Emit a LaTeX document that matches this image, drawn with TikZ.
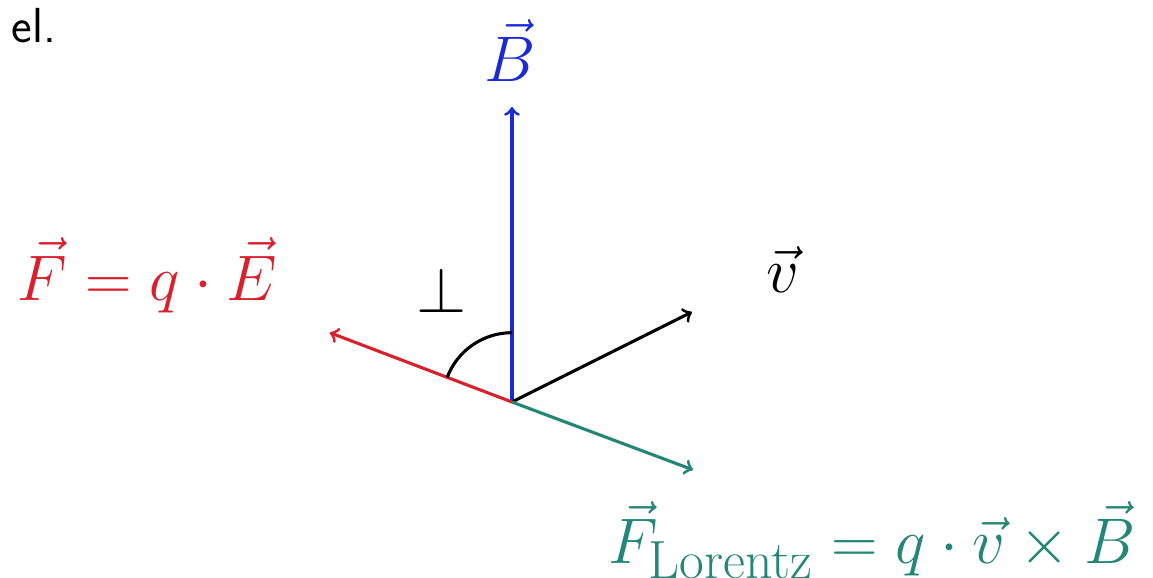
\documentclass[tikz,border=0pt]{standalone}
\usetikzlibrary{calc}
\definecolor{fieldB}{HTML}{1A2BD6}
\definecolor{forceE}{HTML}{D9212E}
\definecolor{forceL}{HTML}{238677}
\DeclareMathSizes{26.5}{26.5}{20.7}{16}
\newcommand{\ArcR}{0.94}

\begin{document}
\begin{tikzpicture}[
    vec/.style={->, line width=1.2pt},
    lbl/.style={font=\fontsize{26.5}{30}\selectfont},
  ]
\useasboundingbox (-6.942, -2.373) rectangle (8.692, 5.451);

% --- Clipped caption text -----------------------------------------------------
\node[anchor=east, inner sep=0pt, font=\sffamily\fontsize{19}{23}\selectfont] (cap) at (-6.17, 5.1) {ó el.};

% --- The vectors, all from the origin ----------------------------------------
\coordinate (O) at (0, 0);
\coordinate (Btip) at (0, 4.0);
\coordinate (vtip) at (2.44, 1.22);
\coordinate (Ltip) at (2.455, -0.92);
\coordinate (Etip) at (-2.47, 0.94);

\draw[vec, fieldB] (O) -- (Btip);
\draw[vec, black] (O) -- (vtip);
\draw[vec, forceL] (O) -- (Ltip);
\draw[vec, forceE] (O) -- (Etip);

% --- The right angle between B and F -----------------------------------------
\draw[line width=1.2pt] (0, \ArcR) arc[start angle=90, end angle=159.2, radius=\ArcR];

% --- Labels ------------------------------------------------------------------
\node[lbl, text=fieldB] (lB) at (-0.03, 4.77) {$\vec{B}$};
\node[lbl] (lv) at (3.67, 1.79) {$\vec{v}$};
\node[lbl, text=forceE] (lE) at (-4.94, 1.72) {$\vec{F} = q \cdot \vec{E}$};
\node[lbl, text=forceL] (lL) at (4.88, -1.87) {$\vec{F}_{\mathrm{Lorentz}} = q \cdot \vec{v} \times \vec{B}$};
\node[lbl] (perp) at (-0.96, 1.52) {$\perp$};

\end{tikzpicture}
\end{document}
